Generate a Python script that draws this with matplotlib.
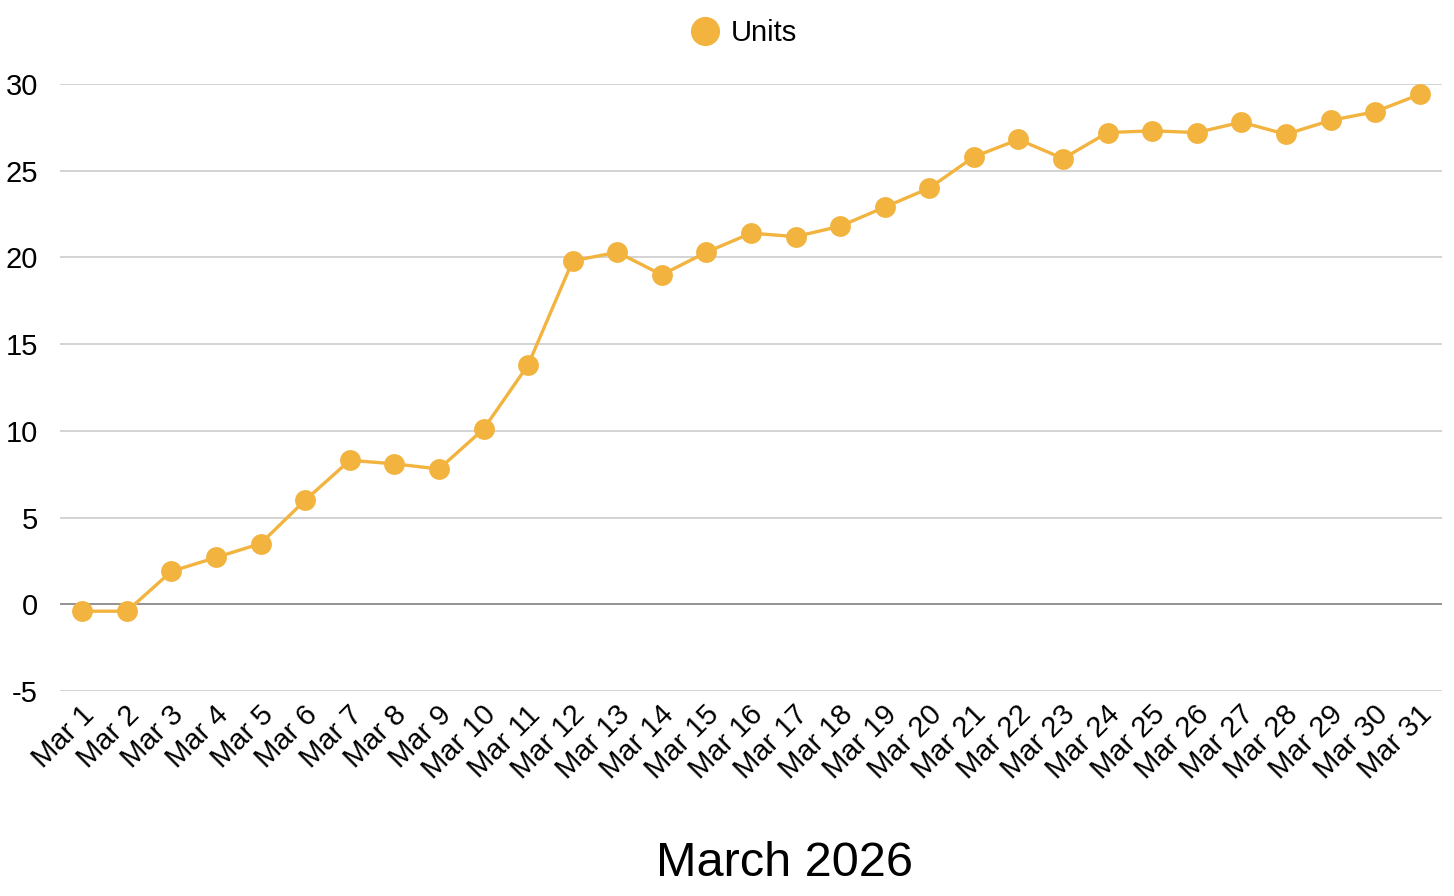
import numpy as np
import matplotlib
matplotlib.use("Agg")
import matplotlib.pyplot as plt
from matplotlib.transforms import ScaledTranslation

plt.rcParams['font.family'] = ['Liberation Sans', 'DejaVu Sans']

# data
days = [f"Mar {d}" for d in range(1, 32)]
units = [-0.4, -0.4, 1.9, 2.7, 3.5, 6.0, 8.3, 8.1, 7.8, 10.1,
         13.8, 19.8, 20.3, 19.0, 20.3, 21.4, 21.2, 21.8, 22.9, 24.0,
         25.8, 26.8, 25.7, 27.2, 27.3, 27.2, 27.8, 27.1, 27.9, 28.4, 29.4]
yticks = [-5, 0, 5, 10, 15, 20, 25, 30]

color = '#F2B33F'

fig = plt.figure(figsize=(14.54, 8.96), dpi=100)
ax = fig.add_axes([60 / 1454, 1 - 691 / 896, 1382 / 1454, 607 / 896])

x = np.arange(len(days))
ax.plot(x, units, color=color, lw=2.4, marker='o', ms=15,
        markeredgewidth=0, clip_on=False, zorder=3, label='Units')

ax.set_xlim(-0.5, len(days) - 0.5)
ax.set_ylim(-5, 30)
ax.set_yticks(yticks)
ax.set_yticklabels([str(t) for t in yticks])
for t in yticks:
    ax.axhline(t, color='#808080' if t == 0 else '#cccccc',
               lw=1.2, zorder=1)

ax.set_xticks(x)
ax.set_xticklabels(days, rotation=45, ha='right', va='center',
                   rotation_mode='anchor')
ax.tick_params(axis='x', length=0, pad=14, labelsize=21)
ax.tick_params(axis='y', length=0, pad=16, labelsize=21)
shift = ScaledTranslation(8 / 100, 0, fig.dpi_scale_trans)
for lab in ax.get_xticklabels():
    lab.set_transform(lab.get_transform() + shift)
for s in ax.spines.values():
    s.set_visible(False)

fig.legend(loc='upper center', bbox_to_anchor=(745 / 1454, 1.008),
           frameon=False, fontsize=21, markerscale=1.4,
           handlelength=0.8, handletextpad=0.5)
for h in fig.legends[0].legend_handles:
    h.set_linestyle('none')

fig.text(784 / 1454, 1 - 863 / 896, 'March 2026', fontsize=35,
         ha='center', va='center')

fig.savefig('out.png', dpi=100)
